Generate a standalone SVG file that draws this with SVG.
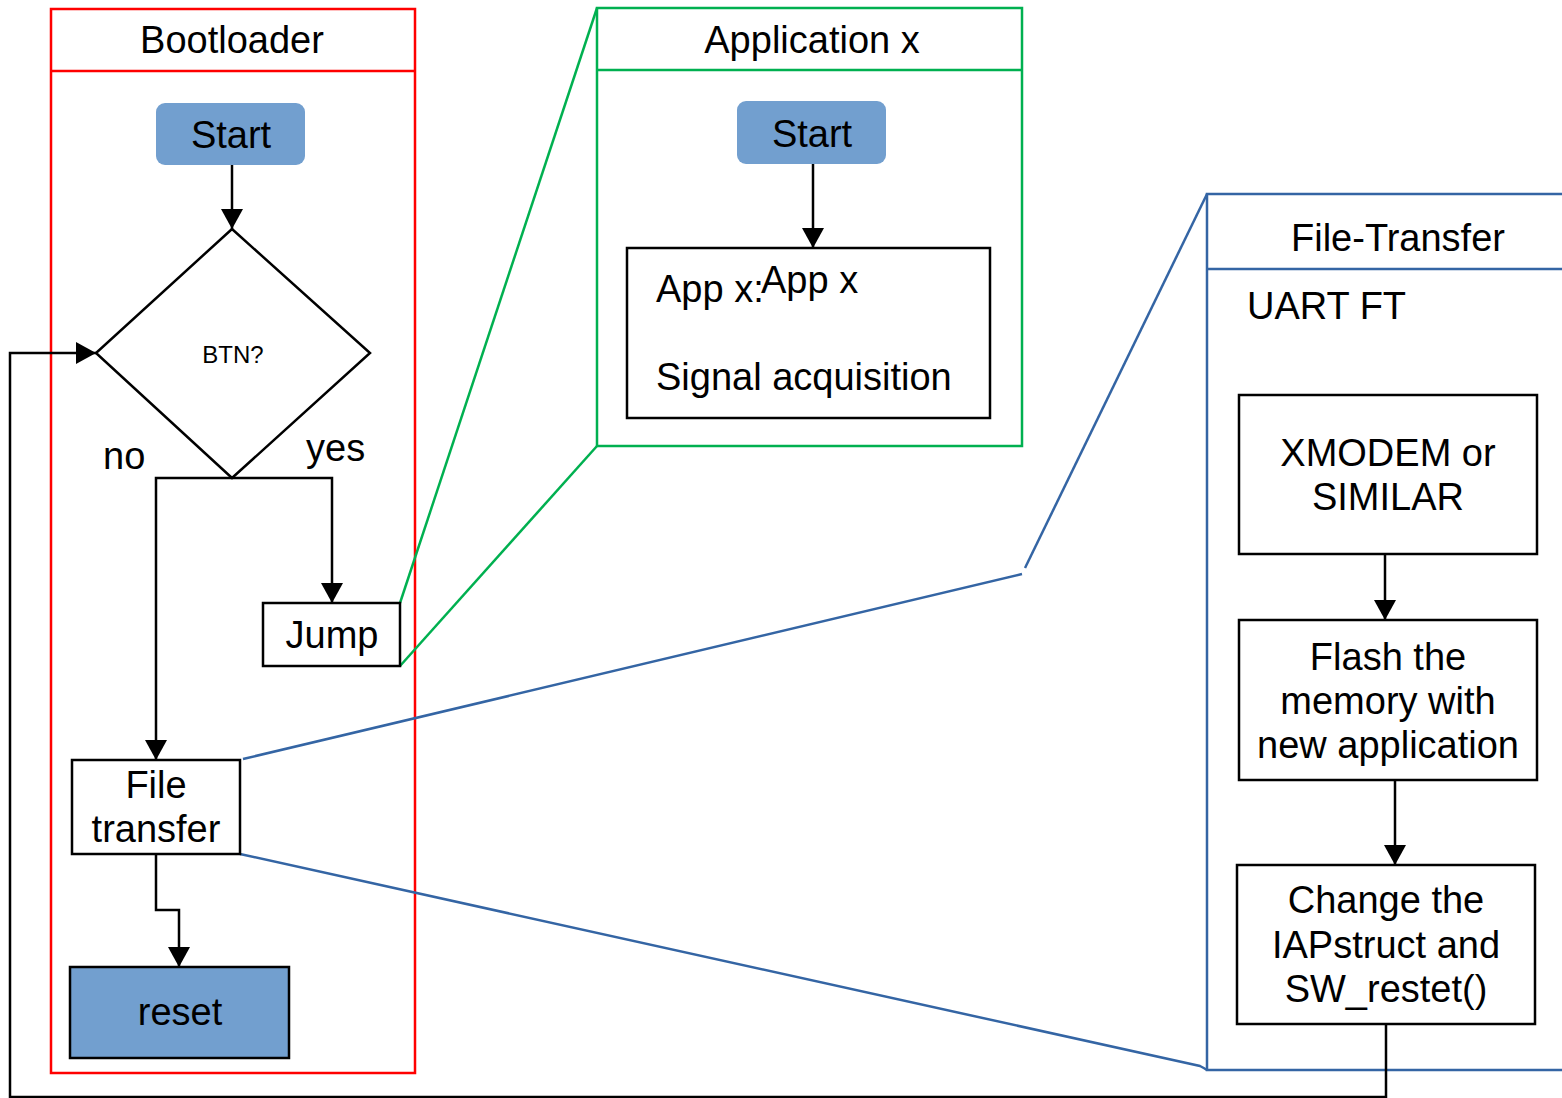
<svg xmlns="http://www.w3.org/2000/svg" width="1562" height="1098" viewBox="0 0 1562 1098">
<defs>
<marker id="arr" markerUnits="userSpaceOnUse" markerWidth="20" markerHeight="22" viewBox="0 0 20 22" refX="20" refY="11" orient="auto">
<path d="M0,0 L20,11 L0,22 Z" fill="#000"/>
</marker>
</defs>
<style>
text{font-family:"Liberation Sans",Arial,sans-serif;font-size:38px;fill:#000}
.c{text-anchor:middle}
.box{fill:#fff;stroke:#000;stroke-width:2.5}
.blue{fill:#729fcf}
.conn{fill:none;stroke:#000;stroke-width:2.5}
.red{fill:none;stroke:#ff0000;stroke-width:2.5}
.grn{fill:none;stroke:#00b050;stroke-width:2.5}
.bl{fill:none;stroke:#3465a4;stroke-width:2.5}
</style>
<rect width="1562" height="1098" fill="#fff"/>

<g id="bootloader-frame">
<rect class="red" x="51" y="9" width="364" height="1064"/>
<line class="red" x1="51" y1="71" x2="415" y2="71"/>
<text class="c" x="232" y="53">Bootloader</text>
</g>

<g id="application-frame">
<rect class="grn" x="597" y="8" width="425" height="438"/>
<line class="grn" x1="597" y1="70" x2="1022" y2="70"/>
<text class="c" x="812" y="53">Application x</text>
</g>

<g id="filetransfer-frame">
<path class="bl" d="M1600,194 L1207,194 L1207,1070 L1600,1070"/>
<line class="bl" x1="1207" y1="269" x2="1562" y2="269"/>
<text class="c" x="1398" y="251">File-Transfer</text>
<text x="1247" y="319">UART FT</text>
</g>

<g id="zoom-lines">
<line class="grn" x1="400" y1="603" x2="597" y2="8"/>
<line class="grn" x1="400" y1="666" x2="597" y2="446"/>
<line class="bl" x1="243" y1="759" x2="1022" y2="574"/>
<line class="bl" x1="1025" y1="568" x2="1207" y2="194"/>
<path class="bl" d="M240,854 L1200,1066 Q1204,1068 1207,1070"/>
</g>

<g id="connectors">
<line class="conn" x1="232" y1="165" x2="232" y2="229" marker-end="url(#arr)"/>
<polyline class="conn" points="232,478 156,478 156,760" marker-end="url(#arr)"/>
<polyline class="conn" points="232,478 332,478 332,603" marker-end="url(#arr)"/>
<polyline class="conn" points="156,854 156,910 179,910 179,967" marker-end="url(#arr)"/>
<polyline class="conn" points="1386,1024 1386,1097 10,1097 10,353 96,353" marker-end="url(#arr)"/>
<line class="conn" x1="813" y1="164" x2="813" y2="248" marker-end="url(#arr)"/>
<line class="conn" x1="1385" y1="554" x2="1385" y2="620" marker-end="url(#arr)"/>
<line class="conn" x1="1395" y1="780" x2="1395" y2="865" marker-end="url(#arr)"/>
<text x="103" y="469">no</text>
<text x="306" y="461">yes</text>
</g>

<g id="boot-start">
<rect class="blue" x="156" y="103" width="149" height="62" rx="9"/>
<text class="c" x="231" y="148">Start</text>
</g>

<g id="btn-decision">
<polygon class="box" points="232,229 370,353 232,478 96,353"/>
<text class="c" x="233" y="363" style="font-size:24px">BTN?</text>
</g>

<g id="jump">
<rect class="box" x="263" y="603" width="137" height="63"/>
<text class="c" x="332" y="648">Jump</text>
</g>

<g id="file-transfer">
<rect class="box" x="72" y="760" width="168" height="94"/>
<text class="c" x="156" y="798">File</text>
<text class="c" x="156" y="842">transfer</text>
</g>

<g id="reset">
<rect class="blue" x="70" y="967" width="219" height="91" stroke="#000" stroke-width="2.5"/>
<text class="c" x="180" y="1025">reset</text>
</g>

<g id="app-start">
<rect class="blue" x="737" y="101" width="149" height="63" rx="9"/>
<text class="c" x="812" y="147">Start</text>
</g>

<g id="app-box">
<rect class="box" x="627" y="248" width="363" height="170"/>
<text x="656" y="302">App x:</text>
<text x="761" y="293">App x</text>
<text x="656" y="390">Signal acquisition</text>
</g>

<g id="xmodem">
<rect class="box" x="1239" y="395" width="298" height="159"/>
<text class="c" x="1388" y="466">XMODEM or</text>
<text class="c" x="1388" y="510">SIMILAR</text>
</g>

<g id="flash">
<rect class="box" x="1239" y="620" width="298" height="160"/>
<text class="c" x="1388" y="670">Flash the</text>
<text class="c" x="1388" y="714">memory with</text>
<text class="c" x="1388" y="758">new application</text>
</g>

<g id="change">
<rect class="box" x="1237" y="865" width="298" height="159"/>
<text class="c" x="1386" y="913">Change the</text>
<text class="c" x="1386" y="958">IAPstruct and</text>
<text class="c" x="1386" y="1002">SW_restet()</text>
</g>
</svg>
